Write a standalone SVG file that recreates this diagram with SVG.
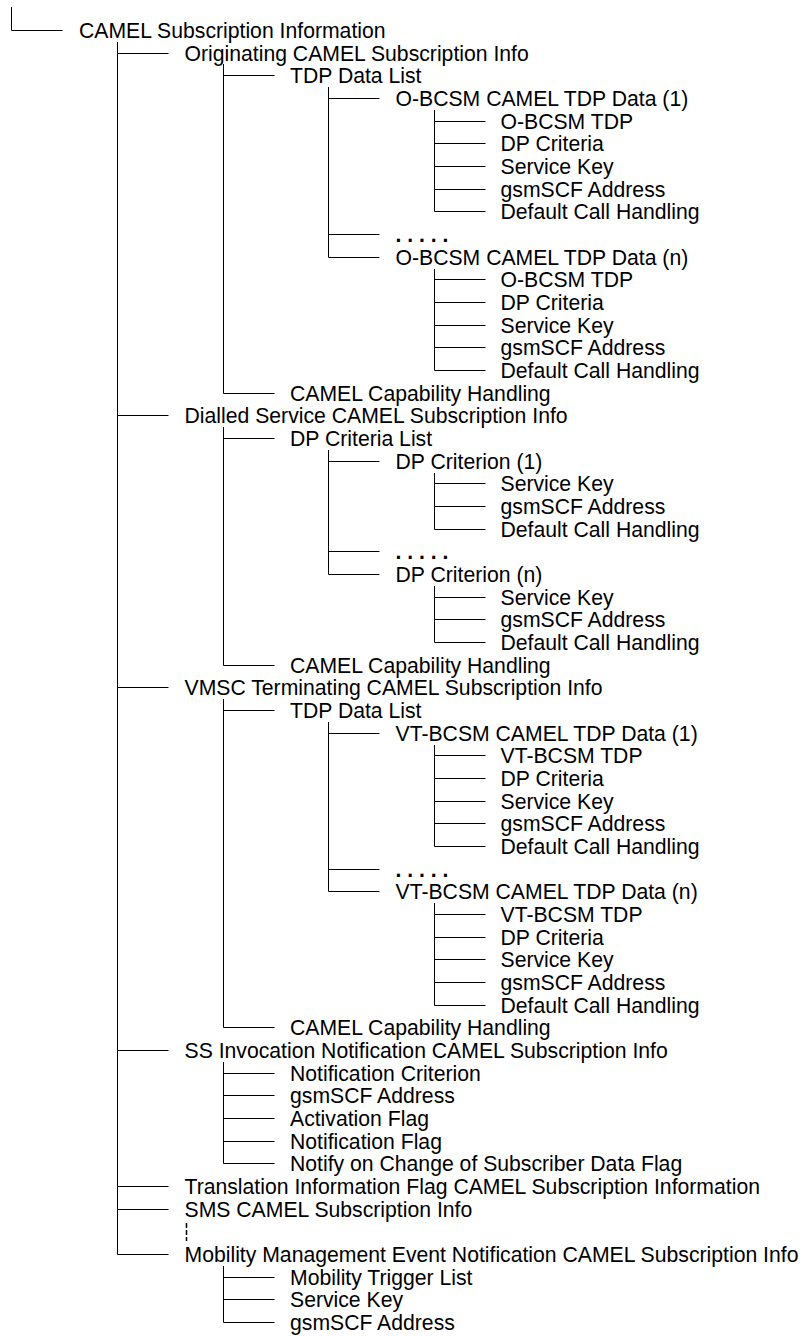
<svg xmlns="http://www.w3.org/2000/svg" width="807" height="1336" viewBox="0 0 807 1336">
<style>
text{font-family:"Liberation Sans",Arial,Helvetica,sans-serif;font-size:21.2px;fill:#000}
.dots{font-weight:bold}
#connectors line{stroke:#000;stroke-width:1;fill:none}
#connectors line.dash{stroke-width:1.5;stroke-dasharray:5 2}
</style>
<rect width="807" height="1336" fill="#fff"/>
<g id="connectors">
<line x1="11.5" y1="7" x2="11.5" y2="30.5"/>
<line x1="117.5" y1="42" x2="117.5" y2="1254.5"/>
<line x1="223.5" y1="64" x2="223.5" y2="393.5"/>
<line x1="328.5" y1="87" x2="328.5" y2="257.5"/>
<line x1="434.5" y1="110" x2="434.5" y2="211.5"/>
<line x1="434.5" y1="269" x2="434.5" y2="370.5"/>
<line x1="223.5" y1="427" x2="223.5" y2="665.5"/>
<line x1="328.5" y1="450" x2="328.5" y2="574.5"/>
<line x1="434.5" y1="473" x2="434.5" y2="529.5"/>
<line x1="434.5" y1="586" x2="434.5" y2="642.5"/>
<line x1="223.5" y1="699" x2="223.5" y2="1027.5"/>
<line x1="328.5" y1="722" x2="328.5" y2="891.5"/>
<line x1="434.5" y1="745" x2="434.5" y2="846.5"/>
<line x1="434.5" y1="903" x2="434.5" y2="1005.5"/>
<line x1="223.5" y1="1062" x2="223.5" y2="1163.5"/>
<line x1="223.5" y1="1266" x2="223.5" y2="1322.5"/>
<line x1="11.5" y1="30.5" x2="62.5" y2="30.5"/>
<line x1="117.5" y1="53.5" x2="168.5" y2="53.5"/>
<line x1="223.5" y1="75.5" x2="274.5" y2="75.5"/>
<line x1="328.5" y1="98.5" x2="379.5" y2="98.5"/>
<line x1="434.5" y1="121.5" x2="485.5" y2="121.5"/>
<line x1="434.5" y1="143.5" x2="485.5" y2="143.5"/>
<line x1="434.5" y1="166.5" x2="485.5" y2="166.5"/>
<line x1="434.5" y1="189.5" x2="485.5" y2="189.5"/>
<line x1="434.5" y1="211.5" x2="485.5" y2="211.5"/>
<line x1="328.5" y1="234.5" x2="379.5" y2="234.5"/>
<line x1="328.5" y1="257.5" x2="379.5" y2="257.5"/>
<line x1="434.5" y1="279.5" x2="485.5" y2="279.5"/>
<line x1="434.5" y1="302.5" x2="485.5" y2="302.5"/>
<line x1="434.5" y1="325.5" x2="485.5" y2="325.5"/>
<line x1="434.5" y1="347.5" x2="485.5" y2="347.5"/>
<line x1="434.5" y1="370.5" x2="485.5" y2="370.5"/>
<line x1="223.5" y1="393.5" x2="274.5" y2="393.5"/>
<line x1="117.5" y1="415.5" x2="168.5" y2="415.5"/>
<line x1="223.5" y1="438.5" x2="274.5" y2="438.5"/>
<line x1="328.5" y1="461.5" x2="379.5" y2="461.5"/>
<line x1="434.5" y1="483.5" x2="485.5" y2="483.5"/>
<line x1="434.5" y1="506.5" x2="485.5" y2="506.5"/>
<line x1="434.5" y1="529.5" x2="485.5" y2="529.5"/>
<line x1="328.5" y1="551.5" x2="379.5" y2="551.5"/>
<line x1="328.5" y1="574.5" x2="379.5" y2="574.5"/>
<line x1="434.5" y1="597.5" x2="485.5" y2="597.5"/>
<line x1="434.5" y1="619.5" x2="485.5" y2="619.5"/>
<line x1="434.5" y1="642.5" x2="485.5" y2="642.5"/>
<line x1="223.5" y1="665.5" x2="274.5" y2="665.5"/>
<line x1="117.5" y1="687.5" x2="168.5" y2="687.5"/>
<line x1="223.5" y1="710.5" x2="274.5" y2="710.5"/>
<line x1="328.5" y1="733.5" x2="379.5" y2="733.5"/>
<line x1="434.5" y1="755.5" x2="485.5" y2="755.5"/>
<line x1="434.5" y1="778.5" x2="485.5" y2="778.5"/>
<line x1="434.5" y1="801.5" x2="485.5" y2="801.5"/>
<line x1="434.5" y1="823.5" x2="485.5" y2="823.5"/>
<line x1="434.5" y1="846.5" x2="485.5" y2="846.5"/>
<line x1="328.5" y1="869.5" x2="379.5" y2="869.5"/>
<line x1="328.5" y1="891.5" x2="379.5" y2="891.5"/>
<line x1="434.5" y1="914.5" x2="485.5" y2="914.5"/>
<line x1="434.5" y1="937.5" x2="485.5" y2="937.5"/>
<line x1="434.5" y1="959.5" x2="485.5" y2="959.5"/>
<line x1="434.5" y1="982.5" x2="485.5" y2="982.5"/>
<line x1="434.5" y1="1005.5" x2="485.5" y2="1005.5"/>
<line x1="223.5" y1="1027.5" x2="274.5" y2="1027.5"/>
<line x1="117.5" y1="1050.5" x2="168.5" y2="1050.5"/>
<line x1="223.5" y1="1073.5" x2="274.5" y2="1073.5"/>
<line x1="223.5" y1="1095.5" x2="274.5" y2="1095.5"/>
<line x1="223.5" y1="1118.5" x2="274.5" y2="1118.5"/>
<line x1="223.5" y1="1141.5" x2="274.5" y2="1141.5"/>
<line x1="223.5" y1="1163.5" x2="274.5" y2="1163.5"/>
<line x1="117.5" y1="1186.5" x2="168.5" y2="1186.5"/>
<line x1="117.5" y1="1209.5" x2="168.5" y2="1209.5"/>
<line x1="117.5" y1="1254.5" x2="168.5" y2="1254.5"/>
<line x1="223.5" y1="1277.5" x2="274.5" y2="1277.5"/>
<line x1="223.5" y1="1299.5" x2="274.5" y2="1299.5"/>
<line x1="223.5" y1="1322.5" x2="274.5" y2="1322.5"/>
<line class="dash" x1="186.5" y1="1223" x2="186.5" y2="1241"/>
</g>
<g id="n00"><text x="79" y="37.5">CAMEL Subscription Information</text></g>
<g id="n01"><text x="184.5" y="60.5">Originating CAMEL Subscription Info</text></g>
<g id="n02"><text x="290" y="82.5">TDP Data List</text></g>
<g id="n03"><text x="395.5" y="105.5">O-BCSM CAMEL TDP Data (1)</text></g>
<g id="n04"><text x="500.5" y="128.5">O-BCSM TDP</text></g>
<g id="n05"><text x="500.5" y="150.5">DP Criteria</text></g>
<g id="n06"><text x="500.5" y="173.5">Service Key</text></g>
<g id="n07"><text x="500.5" y="196.5">gsmSCF Address</text></g>
<g id="n08"><text x="500.5" y="218.5">Default Call Handling</text></g>
<g id="n09"><text class="dots" x="395.5" y="241.5">. . . . .</text></g>
<g id="n10"><text x="395.5" y="264.5">O-BCSM CAMEL TDP Data (n)</text></g>
<g id="n11"><text x="500.5" y="286.5">O-BCSM TDP</text></g>
<g id="n12"><text x="500.5" y="309.5">DP Criteria</text></g>
<g id="n13"><text x="500.5" y="332.5">Service Key</text></g>
<g id="n14"><text x="500.5" y="354.5">gsmSCF Address</text></g>
<g id="n15"><text x="500.5" y="377.5">Default Call Handling</text></g>
<g id="n16"><text x="290" y="400.5">CAMEL Capability Handling</text></g>
<g id="n17"><text x="184.5" y="422.5">Dialled Service CAMEL Subscription Info</text></g>
<g id="n18"><text x="290" y="445.5">DP Criteria List</text></g>
<g id="n19"><text x="395.5" y="468.5">DP Criterion (1)</text></g>
<g id="n20"><text x="500.5" y="490.5">Service Key</text></g>
<g id="n21"><text x="500.5" y="513.5">gsmSCF Address</text></g>
<g id="n22"><text x="500.5" y="536.5">Default Call Handling</text></g>
<g id="n23"><text class="dots" x="395.5" y="558.5">. . . . .</text></g>
<g id="n24"><text x="395.5" y="581.5">DP Criterion (n)</text></g>
<g id="n25"><text x="500.5" y="604.5">Service Key</text></g>
<g id="n26"><text x="500.5" y="626.5">gsmSCF Address</text></g>
<g id="n27"><text x="500.5" y="649.5">Default Call Handling</text></g>
<g id="n28"><text x="290" y="672.5">CAMEL Capability Handling</text></g>
<g id="n29"><text x="184.5" y="694.5">VMSC Terminating CAMEL Subscription Info</text></g>
<g id="n30"><text x="290" y="717.5">TDP Data List</text></g>
<g id="n31"><text x="395.5" y="740.5">VT-BCSM CAMEL TDP Data (1)</text></g>
<g id="n32"><text x="500.5" y="762.5">VT-BCSM TDP</text></g>
<g id="n33"><text x="500.5" y="785.5">DP Criteria</text></g>
<g id="n34"><text x="500.5" y="808.5">Service Key</text></g>
<g id="n35"><text x="500.5" y="830.5">gsmSCF Address</text></g>
<g id="n36"><text x="500.5" y="853.5">Default Call Handling</text></g>
<g id="n37"><text class="dots" x="395.5" y="876.5">. . . . .</text></g>
<g id="n38"><text x="395.5" y="898.5">VT-BCSM CAMEL TDP Data (n)</text></g>
<g id="n39"><text x="500.5" y="921.5">VT-BCSM TDP</text></g>
<g id="n40"><text x="500.5" y="944.5">DP Criteria</text></g>
<g id="n41"><text x="500.5" y="966.5">Service Key</text></g>
<g id="n42"><text x="500.5" y="989.5">gsmSCF Address</text></g>
<g id="n43"><text x="500.5" y="1012.5">Default Call Handling</text></g>
<g id="n44"><text x="290" y="1034.5">CAMEL Capability Handling</text></g>
<g id="n45"><text x="184.5" y="1057.5">SS Invocation Notification CAMEL Subscription Info</text></g>
<g id="n46"><text x="290" y="1080.5">Notification Criterion</text></g>
<g id="n47"><text x="290" y="1102.5">gsmSCF Address</text></g>
<g id="n48"><text x="290" y="1125.5">Activation Flag</text></g>
<g id="n49"><text x="290" y="1148.5">Notification Flag</text></g>
<g id="n50"><text x="290" y="1170.5">Notify on Change of Subscriber Data Flag</text></g>
<g id="n51"><text x="184.5" y="1193.5">Translation Information Flag CAMEL Subscription Information</text></g>
<g id="n52"><text x="184.5" y="1216.5">SMS CAMEL Subscription Info</text></g>
<g id="n54"><text x="184.5" y="1261.5">Mobility Management Event Notification CAMEL Subscription Info</text></g>
<g id="n55"><text x="290" y="1284.5">Mobility Trigger List</text></g>
<g id="n56"><text x="290" y="1306.5">Service Key</text></g>
<g id="n57"><text x="290" y="1329.5">gsmSCF Address</text></g>
</svg>
